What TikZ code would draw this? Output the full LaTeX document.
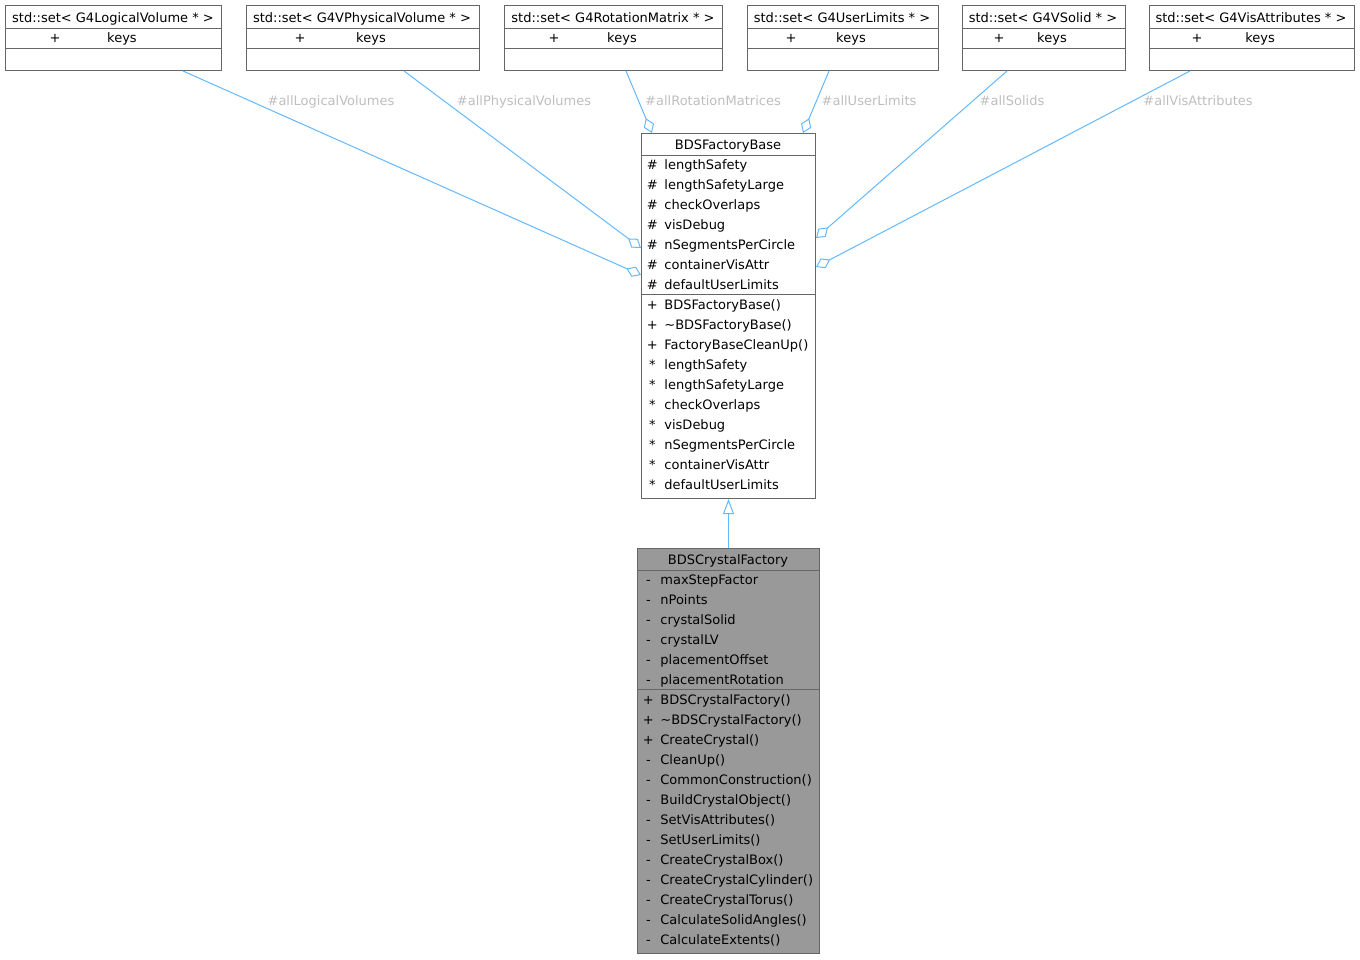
\documentclass[tikz,border=0pt]{standalone}
\usepackage{fontspec}
\setmainfont{DejaVu Sans}
\usetikzlibrary{arrows.meta}
\definecolor{boxgray}{HTML}{666666}
\definecolor{linkblue}{HTML}{63B8FF}
\definecolor{labelgray}{HTML}{BEBEBE}
\definecolor{selgray}{HTML}{999999}
% visibility mark centred on the node's start, member name after it
\newcommand{\mrow}[2]{\makebox[0pt]{#1}\hspace{6pt}#2}

\begin{document}
\begin{tikzpicture}[x=0.5pt, y=-0.5pt, font=\fontsize{6.5pt}{8pt}\selectfont,
  cls/.style={draw=boxgray, line width=0.5pt, anchor=north west, inner sep=0},
  sep/.style={draw=boxgray, line width=0.5pt},
  txt/.style={anchor=base, inner sep=0},
  mem/.style={anchor=base west, inner sep=0},
  elbl/.style={anchor=base, inner sep=0, text=labelgray},
  aggr/.style={draw=linkblue, line width=0.5pt, -{Diamond[open, length=8pt, width=5.5pt]}},
  inh/.style={draw=linkblue, line width=0.5pt, -{Triangle[open, length=7.5pt, width=5.5pt]}}]
\useasboundingbox (0,0) rectangle (1360,959);

% std::set containers along the top
\node[cls, minimum width=108pt, minimum height=32.5pt] (lvset) at (5,5) {};
\node[cls, minimum width=116.5pt, minimum height=32.5pt] (pvset) at (246,5) {};
\node[cls, minimum width=109pt, minimum height=32.5pt] (rmset) at (504,5) {};
\node[cls, minimum width=95.5pt, minimum height=32.5pt] (ulset) at (747,5) {};
\node[cls, minimum width=81.5pt, minimum height=32.5pt] (solset) at (962,5) {};
\node[cls, minimum width=102.5pt, minimum height=32.5pt] (vaset) at (1149,5) {};
\foreach \s in {lvset,pvset,rmset,ulset,solset,vaset} {
  \draw[sep] (\s.west |- 0,28.5) -- (\s.east |- 0,28.5);
  \draw[sep] (\s.west |- 0,48.5) -- (\s.east |- 0,48.5);
}
\node[txt] (lvset-name) at (113,22) {std::set< G4LogicalVolume * >};
\node[txt] (lvset-vis) at (55,42) {+};
\node[txt] (lvset-key) at (122,42) {keys};
\node[txt] (pvset-name) at (362,22) {std::set< G4VPhysicalVolume * >};
\node[txt] (pvset-vis) at (300,42) {+};
\node[txt] (pvset-key) at (371,42) {keys};
\node[txt] (rmset-name) at (613,22) {std::set< G4RotationMatrix * >};
\node[txt] (rmset-vis) at (554,42) {+};
\node[txt] (rmset-key) at (622,42) {keys};
\node[txt] (ulset-name) at (842,22) {std::set< G4UserLimits * >};
\node[txt] (ulset-vis) at (791,42) {+};
\node[txt] (ulset-key) at (851,42) {keys};
\node[txt] (solset-name) at (1043,22) {std::set< G4VSolid * >};
\node[txt] (solset-vis) at (999,42) {+};
\node[txt] (solset-key) at (1052,42) {keys};
\node[txt] (vaset-name) at (1251,22) {std::set< G4VisAttributes * >};
\node[txt] (vaset-vis) at (1197,42) {+};
\node[txt] (vaset-key) at (1260,42) {keys};

% BDSFactoryBase
\node[cls, minimum width=87pt, minimum height=182.5pt] (fb) at (641,133) {};
\draw[sep] (fb.west |- 0,155) -- (fb.east |- 0,155);
\draw[sep] (fb.west |- 0,294.5) -- (fb.east |- 0,294.5);
\node[txt] (fb-name) at (728,149) {BDSFactoryBase};
\node[mem] (fb-a1) at (652,169) {\mrow{\#}{lengthSafety}};
\node[mem] (fb-a2) at (652,189) {\mrow{\#}{lengthSafetyLarge}};
\node[mem] (fb-a3) at (652,209) {\mrow{\#}{checkOverlaps}};
\node[mem] (fb-a4) at (652,229) {\mrow{\#}{visDebug}};
\node[mem] (fb-a5) at (652,249) {\mrow{\#}{nSegmentsPerCircle}};
\node[mem] (fb-a6) at (652,269) {\mrow{\#}{containerVisAttr}};
\node[mem] (fb-a7) at (652,289) {\mrow{\#}{defaultUserLimits}};
\node[mem] (fb-m1) at (652,309) {\mrow{+}{BDSFactoryBase()}};
\node[mem] (fb-m2) at (652,329) {\mrow{+}{\textasciitilde BDSFactoryBase()}};
\node[mem] (fb-m3) at (652,349) {\mrow{+}{FactoryBaseCleanUp()}};
\node[mem] (fb-m4) at (652,369) {\mrow{*}{lengthSafety}};
\node[mem] (fb-m5) at (652,389) {\mrow{*}{lengthSafetyLarge}};
\node[mem] (fb-m6) at (652,409) {\mrow{*}{checkOverlaps}};
\node[mem] (fb-m7) at (652,429) {\mrow{*}{visDebug}};
\node[mem] (fb-m8) at (652,449) {\mrow{*}{nSegmentsPerCircle}};
\node[mem] (fb-m9) at (652,469) {\mrow{*}{containerVisAttr}};
\node[mem] (fb-m10) at (652,489) {\mrow{*}{defaultUserLimits}};

% BDSCrystalFactory
\node[cls, fill=selgray, minimum width=91pt, minimum height=202.5pt] (cf) at (637,548) {};
\draw[sep] (cf.west |- 0,570) -- (cf.east |- 0,570);
\draw[sep] (cf.west |- 0,689.5) -- (cf.east |- 0,689.5);
\node[txt] (cf-name) at (728,564) {BDSCrystalFactory};
\node[mem] (cf-a1) at (648,584) {\mrow{-}{maxStepFactor}};
\node[mem] (cf-a2) at (648,604) {\mrow{-}{nPoints}};
\node[mem] (cf-a3) at (648,624) {\mrow{-}{crystalSolid}};
\node[mem] (cf-a4) at (648,644) {\mrow{-}{crystalLV}};
\node[mem] (cf-a5) at (648,664) {\mrow{-}{placementOffset}};
\node[mem] (cf-a6) at (648,684) {\mrow{-}{placementRotation}};
\node[mem] (cf-m1) at (648,704) {\mrow{+}{BDSCrystalFactory()}};
\node[mem] (cf-m2) at (648,724) {\mrow{+}{\textasciitilde BDSCrystalFactory()}};
\node[mem] (cf-m3) at (648,744) {\mrow{+}{CreateCrystal()}};
\node[mem] (cf-m4) at (648,764) {\mrow{-}{CleanUp()}};
\node[mem] (cf-m5) at (648,784) {\mrow{-}{CommonConstruction()}};
\node[mem] (cf-m6) at (648,804) {\mrow{-}{BuildCrystalObject()}};
\node[mem] (cf-m7) at (648,824) {\mrow{-}{SetVisAttributes()}};
\node[mem] (cf-m8) at (648,844) {\mrow{-}{SetUserLimits()}};
\node[mem] (cf-m9) at (648,864) {\mrow{-}{CreateCrystalBox()}};
\node[mem] (cf-m10) at (648,884) {\mrow{-}{CreateCrystalCylinder()}};
\node[mem] (cf-m11) at (648,904) {\mrow{-}{CreateCrystalTorus()}};
\node[mem] (cf-m12) at (648,924) {\mrow{-}{CalculateSolidAngles()}};
\node[mem] (cf-m13) at (648,944) {\mrow{-}{CalculateExtents()}};

% aggregations into the factory base
\draw[aggr] (lvset.south -| 183,0) -- (fb.west |- 0,275);
\draw[aggr] (pvset.south -| 404,0) -- (fb.west |- 0,248);
\draw[aggr] (rmset.south -| 626,0) -- (fb.north -| 652,0);
\draw[aggr] (ulset.south -| 829,0) -- (fb.north -| 803,0);
\draw[aggr] (solset.south -| 1007,0) -- (fb.east |- 0,238);
\draw[aggr] (vaset.south -| 1190,0) -- (fb.east |- 0,267);
\node[elbl] (lbl-lv) at (331,105) {\#allLogicalVolumes};
\node[elbl] (lbl-pv) at (524,105) {\#allPhysicalVolumes};
\node[elbl] (lbl-rm) at (713,105) {\#allRotationMatrices};
\node[elbl] (lbl-ul) at (869,105) {\#allUserLimits};
\node[elbl] (lbl-sol) at (1012,105) {\#allSolids};
\node[elbl] (lbl-va) at (1198,105) {\#allVisAttributes};

% inheritance
\draw[inh] (cf.north) -- (fb.south);
\end{tikzpicture}
\end{document}
